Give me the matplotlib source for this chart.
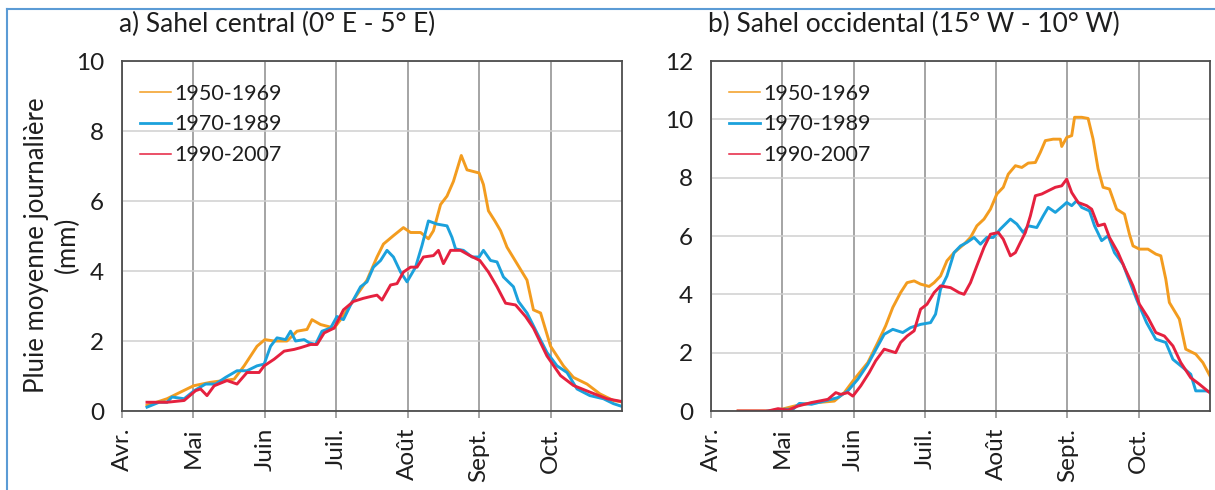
import matplotlib
matplotlib.use("Agg")
import matplotlib.pyplot as plt
from matplotlib.lines import Line2D

plt.rcParams['font.family'] = ['Lato', 'DejaVu Sans']

# mois depuis le 1er avril (0 = Avr., 1 = Mai, ...)
mois = ["Avr.", "Mai", "Juin", "Juil.", "Août", "Sept.", "Oct."]
periodes = ["1950-1969", "1970-1989", "1990-2007"]
couleurs = ["#F39C1F", "#1BA1DC", "#E5213F"]

# a) Sahel central
a_x1 = [0.35, 0.63, 1.0, 1.24, 1.57, 1.71, 1.89, 2.0, 2.13, 2.31, 2.45, 2.59, 2.66, 2.78,
        2.97, 3.06, 3.24, 3.43, 3.57, 3.66, 3.80, 3.94, 4.04, 4.18, 4.29, 4.36, 4.46, 4.55,
        4.64, 4.75, 4.83, 5.0, 5.06, 5.13, 5.22, 5.30, 5.39, 5.53, 5.67, 5.76, 5.86, 6.0,
        6.18, 6.32, 6.51, 6.69, 6.88, 7.0]
a_y1 = [0.16, 0.35, 0.72, 0.82, 0.91, 1.29, 1.85, 2.04, 2.0, 2.0, 2.28, 2.33, 2.61, 2.47,
        2.37, 2.61, 3.17, 3.74, 4.40, 4.77, 5.01, 5.24, 5.10, 5.10, 4.92, 5.15, 5.90, 6.14,
        6.56, 7.30, 6.89, 6.80, 6.47, 5.72, 5.43, 5.15, 4.68, 4.21, 3.74, 2.89, 2.80, 1.85,
        1.29, 0.96, 0.77, 0.49, 0.30, 0.26]
a_x2 = [0.35, 0.52, 0.63, 0.70, 0.87, 1.01, 1.17, 1.31, 1.45, 1.61, 1.75, 1.89, 1.99, 2.08,
        2.17, 2.29, 2.36, 2.43, 2.55, 2.62, 2.71, 2.80, 2.92, 3.01, 3.10, 3.20, 3.34, 3.43,
        3.52, 3.62, 3.71, 3.80, 3.90, 3.99, 4.11, 4.20, 4.29, 4.41, 4.55, 4.62, 4.67, 4.78,
        4.90, 5.0, 5.06, 5.16, 5.25, 5.34, 5.48, 5.55, 5.67, 5.81, 5.95, 6.09, 6.23, 6.37,
        6.55, 6.74, 6.88, 7.0]
a_y2 = [0.11, 0.25, 0.25, 0.40, 0.35, 0.58, 0.77, 0.77, 0.96, 1.15, 1.15, 1.29, 1.34, 1.85,
        2.09, 2.04, 2.28, 2.0, 2.04, 1.95, 1.90, 2.28, 2.37, 2.70, 2.61, 3.03, 3.55, 3.69,
        4.11, 4.30, 4.59, 4.40, 3.97, 3.69, 4.11, 4.73, 5.43, 5.34, 5.29, 4.96, 4.63, 4.59,
        4.40, 4.40, 4.59, 4.30, 4.26, 3.83, 3.55, 3.13, 2.80, 2.23, 1.67, 1.29, 1.10, 0.63,
        0.44, 0.35, 0.21, 0.13]
a_x3 = [0.35, 0.63, 0.87, 1.03, 1.10, 1.19, 1.29, 1.47, 1.61, 1.75, 1.92, 1.99, 2.13, 2.27,
        2.41, 2.50, 2.64, 2.73, 2.83, 2.97, 3.10, 3.24, 3.38, 3.48, 3.57, 3.64, 3.76, 3.85,
        3.94, 4.04, 4.13, 4.22, 4.36, 4.43, 4.50, 4.60, 4.74, 4.87, 5.01, 5.13, 5.25, 5.37,
        5.51, 5.65, 5.76, 5.95, 6.14, 6.32, 6.55, 6.79, 7.0]
a_y3 = [0.25, 0.25, 0.30, 0.58, 0.63, 0.44, 0.72, 0.87, 0.77, 1.10, 1.10, 1.29, 1.48, 1.71,
        1.76, 1.81, 1.90, 1.90, 2.23, 2.37, 2.89, 3.13, 3.22, 3.27, 3.31, 3.17, 3.60, 3.64,
        3.97, 4.11, 4.11, 4.40, 4.44, 4.59, 4.21, 4.59, 4.59, 4.44, 4.30, 3.97, 3.55, 3.08,
        3.03, 2.70, 2.37, 1.57, 1.01, 0.73, 0.54, 0.35, 0.27]

# b) Sahel occidental
b_x1 = [0.38, 0.80, 0.99, 1.27, 1.50, 1.73, 1.87, 2.01, 2.20, 2.34, 2.45, 2.55, 2.66, 2.75,
        2.85, 2.94, 3.06, 3.13, 3.22, 3.31, 3.41, 3.55, 3.64, 3.73, 3.83, 3.92, 4.01, 4.10,
        4.17, 4.27, 4.36, 4.45, 4.55, 4.62, 4.69, 4.80, 4.90, 4.92, 4.99, 5.06, 5.10, 5.20,
        5.29, 5.36, 5.43, 5.50, 5.59, 5.69, 5.80, 5.87, 5.92, 6.01, 6.13, 6.24, 6.31, 6.38,
        6.43, 6.57, 6.66, 6.80, 6.90, 7.0]
b_y1 = [0.0, 0.0, 0.06, 0.23, 0.29, 0.34, 0.63, 1.09, 1.66, 2.35, 2.92, 3.55, 4.06, 4.40,
        4.46, 4.35, 4.27, 4.40, 4.63, 5.15, 5.43, 5.72, 5.95, 6.35, 6.58, 6.92, 7.44, 7.67,
        8.12, 8.41, 8.35, 8.50, 8.52, 8.87, 9.27, 9.32, 9.32, 9.07, 9.38, 9.44, 10.07, 10.07,
        10.03, 9.32, 8.30, 7.67, 7.61, 6.92, 6.75, 6.06, 5.66, 5.55, 5.55, 5.38, 5.32, 4.52,
        3.72, 3.15, 2.12, 1.95, 1.66, 1.20]
b_x2 = [0.80, 1.03, 1.15, 1.24, 1.41, 1.59, 1.78, 1.92, 2.06, 2.20, 2.34, 2.43, 2.55, 2.69,
        2.80, 2.94, 3.08, 3.15, 3.22, 3.31, 3.41, 3.50, 3.59, 3.69, 3.78, 3.87, 3.96, 4.06,
        4.20, 4.29, 4.38, 4.45, 4.57, 4.66, 4.73, 4.83, 4.94, 4.99, 5.06, 5.13, 5.20, 5.31,
        5.38, 5.48, 5.57, 5.66, 5.78, 5.85, 5.97, 6.11, 6.24, 6.38, 6.48, 6.62, 6.73, 6.80,
        6.94, 7.0]
b_y2 = [0.0, 0.06, 0.06, 0.26, 0.23, 0.34, 0.46, 0.69, 1.09, 1.60, 2.23, 2.63, 2.80, 2.69,
        2.86, 2.97, 3.03, 3.32, 4.18, 4.63, 5.43, 5.66, 5.78, 5.95, 5.72, 5.95, 5.95, 6.24,
        6.58, 6.41, 6.12, 6.35, 6.29, 6.69, 6.98, 6.81, 7.04, 7.15, 7.04, 7.21, 6.98, 6.86,
        6.35, 5.84, 6.01, 5.43, 5.03, 4.58, 3.83, 3.03, 2.46, 2.35, 1.77, 1.49, 1.26, 0.69,
        0.69, 0.66]
b_x3 = [0.38, 0.80, 0.94, 1.08, 1.22, 1.41, 1.64, 1.75, 1.82, 1.92, 1.99, 2.10, 2.22, 2.31,
        2.43, 2.59, 2.66, 2.75, 2.85, 2.94, 3.03, 3.13, 3.22, 3.36, 3.48, 3.55, 3.64, 3.73,
        3.83, 3.92, 4.03, 4.10, 4.20, 4.27, 4.34, 4.41, 4.48, 4.55, 4.64, 4.73, 4.83, 4.92,
        4.99, 5.06, 5.15, 5.27, 5.34, 5.43, 5.52, 5.59, 5.71, 5.80, 5.92, 6.01, 6.13, 6.24,
        6.36, 6.48, 6.59, 6.73, 6.85, 7.0]
b_y3 = [0.0, 0.0, 0.08, 0.03, 0.17, 0.29, 0.40, 0.63, 0.57, 0.63, 0.51, 0.86, 1.32, 1.72,
        2.12, 2.00, 2.35, 2.57, 2.75, 3.49, 3.66, 4.06, 4.29, 4.23, 4.06, 4.00, 4.40, 4.98,
        5.61, 6.06, 6.12, 5.89, 5.32, 5.43, 5.78, 6.12, 6.69, 7.38, 7.44, 7.55, 7.67, 7.72,
        7.95, 7.49, 7.15, 7.04, 6.92, 6.35, 6.41, 5.95, 5.43, 4.92, 4.29, 3.66, 3.20, 2.69,
        2.57, 2.23, 1.66, 1.14, 0.92, 0.62]

W, H = 1215, 490
fig = plt.figure(figsize=(W / 100, H / 100), dpi=100)

panneaux = [
    ("a) Sahel central (0° E - 5° E)", [122, 500], 10, [(a_x1, a_y1), (a_x2, a_y2), (a_x3, a_y3)]),
    ("b) Sahel occidental (15° W - 10° W)", [711, 499], 12, [(b_x1, b_y1), (b_x2, b_y2), (b_x3, b_y3)]),
]

texte = "#1e1e1e"
for titre, (gauche, largeur), ymax, series in panneaux:
    ax = fig.add_axes([gauche / W, (H - 411) / H, largeur / W, 350 / H])
    for (x, y), c, lab in zip(series, couleurs, periodes):
        ax.plot(x, y, color=c, lw=2.1, label=lab, solid_joinstyle='round')
    ax.set_xlim(0, 7)
    ax.set_ylim(0, ymax)
    ax.set_xticks(range(len(mois)))
    ax.set_xticklabels(mois, rotation=90, fontsize=17.5, color=texte)
    ax.set_yticks(range(0, ymax + 1, 2))
    ax.tick_params(axis='y', length=0, pad=13, labelsize=17.5, labelcolor=texte)
    ax.tick_params(axis='x', length=5, width=1.1, color="#8c8c8c", pad=7)
    ax.xaxis.grid(True, color="#8c8c8c", lw=1.1)
    ax.yaxis.grid(True, color="#cfcfcf", lw=1.1)
    ax.set_axisbelow(True)
    for sp in ax.spines.values():
        sp.set_color("#4d4d4d")
        sp.set_linewidth(1.3)
    ax.text(-0.006, 1.0 + 37 / 350, titre, transform=ax.transAxes, fontsize=19,
            ha='left', va='center', color=texte)
    leg = ax.legend(loc='upper left', bbox_to_anchor=(10 / largeur, 1 - 15 / 350),
                    frameon=False, fontsize=15.5, handlelength=1.45,
                    handletextpad=0.15, labelspacing=0.5, borderaxespad=0,
                    borderpad=0.35)
    for h, lw in zip(leg.get_lines(), [1.1, 2.0, 1.1]):
        h.set_linewidth(lw)
    for t in leg.get_texts():
        t.set_color(texte)

fig.text(52 / W, (H - 245) / H, "Pluie moyenne journalière\n(mm)", rotation=90,
         ha='center', va='center', multialignment='center', fontsize=18.5,
         color=texte, linespacing=1.3)

# cadre bleu du document
fig.add_artist(Line2D([7 / W, 7 / W], [0, (H - 9) / H], color="#5B9BD5", lw=1.5))
fig.add_artist(Line2D([7 / W, 1], [(H - 9) / H, (H - 9) / H], color="#5B9BD5", lw=1.5))

fig.savefig("out.png", dpi=100)
